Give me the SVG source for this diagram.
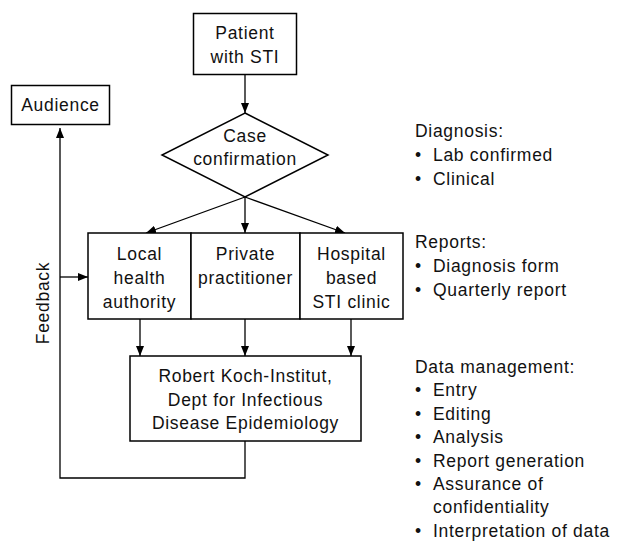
<svg xmlns="http://www.w3.org/2000/svg" width="619" height="542" viewBox="0 0 619 542">
<defs>
<marker id="ah" viewBox="0 0 10 8" refX="10" refY="4" markerWidth="10" markerHeight="8" markerUnits="userSpaceOnUse" orient="auto">
<path d="M0,0 L10,4 L0,8 Z" fill="#000"/>
</marker>
</defs>
<style>
.n{fill:#fff;stroke:#000;stroke-width:1.5}
.c{fill:none;stroke:#000;stroke-width:1.3}
.a{marker-end:url(#ah)}
text{font-family:"Liberation Sans",Arial,sans-serif;font-size:17.5px;letter-spacing:0.7px;fill:#111}
.m{text-anchor:middle}
</style>
<rect width="619" height="542" fill="#fff"/>
<g id="connectors">
<line class="c a" x1="245" y1="74" x2="245" y2="113"/>
<line class="c a" x1="245" y1="197" x2="146" y2="233"/>
<line class="c a" x1="245" y1="197" x2="245" y2="233"/>
<line class="c a" x1="245" y1="197" x2="345" y2="233"/>
<line class="c a" x1="140" y1="319" x2="140" y2="356"/>
<line class="c a" x1="245" y1="319" x2="245" y2="356"/>
<line class="c a" x1="351" y1="319" x2="351" y2="356"/>
<polyline class="c a" points="245,441 245,478 60,478 60,128"/>
<line class="c a" x1="60" y1="277" x2="88" y2="277"/>
<text x="49" y="303" class="m" transform="rotate(-90 49 303)">Feedback</text>
</g>
<g id="patient">
<rect class="n" x="193.5" y="13.5" width="103" height="61"/>
<text x="245" y="39" class="m">Patient</text>
<text x="245" y="63" class="m">with STI</text>
</g>
<g id="audience">
<rect class="n" x="11.5" y="85.5" width="98" height="39"/>
<text x="60.5" y="111" class="m">Audience</text>
</g>
<g id="case">
<polygon class="n" points="245,113 328,155 245,197 162,155"/>
<text x="245" y="142" class="m">Case</text>
<text x="245" y="165" class="m">confirmation</text>
</g>
<g id="local">
<rect class="n" x="88" y="233" width="103" height="86"/>
<text x="139.5" y="260" class="m">Local</text>
<text x="139.5" y="284" class="m">health</text>
<text x="139.5" y="308" class="m">authority</text>
</g>
<g id="private">
<rect class="n" x="191" y="233" width="109" height="86"/>
<text x="245.5" y="260" class="m">Private</text>
<text x="245.5" y="284" class="m">practitioner</text>
</g>
<g id="hospital">
<rect class="n" x="300" y="233" width="103" height="86"/>
<text x="351.5" y="260" class="m">Hospital</text>
<text x="351.5" y="284" class="m">based</text>
<text x="351.5" y="308" class="m">STI clinic</text>
</g>
<g id="rki">
<rect class="n" x="130" y="356" width="231" height="85"/>
<text x="245.5" y="382" class="m">Robert Koch-Institut,</text>
<text x="245.5" y="406" class="m">Dept for Infectious</text>
<text x="245.5" y="429" class="m">Disease Epidemiology</text>
</g>
<g id="notes">
<text x="415" y="137">Diagnosis:</text>
<text x="415" y="161">•</text><text x="433" y="161">Lab confirmed</text>
<text x="415" y="185">•</text><text x="433" y="185">Clinical</text>
<text x="415" y="248">Reports:</text>
<text x="415" y="272">•</text><text x="433" y="272">Diagnosis form</text>
<text x="415" y="296">•</text><text x="433" y="296">Quarterly report</text>
<text x="415" y="373">Data management:</text>
<text x="415" y="396">•</text><text x="433" y="396">Entry</text>
<text x="415" y="420">•</text><text x="433" y="420">Editing</text>
<text x="415" y="443">•</text><text x="433" y="443">Analysis</text>
<text x="415" y="467">•</text><text x="433" y="467">Report generation</text>
<text x="415" y="490">•</text><text x="433" y="490">Assurance of</text>
<text x="433" y="513">confidentiality</text>
<text x="415" y="537">•</text><text x="433" y="537">Interpretation of data</text>
</g>
</svg>
